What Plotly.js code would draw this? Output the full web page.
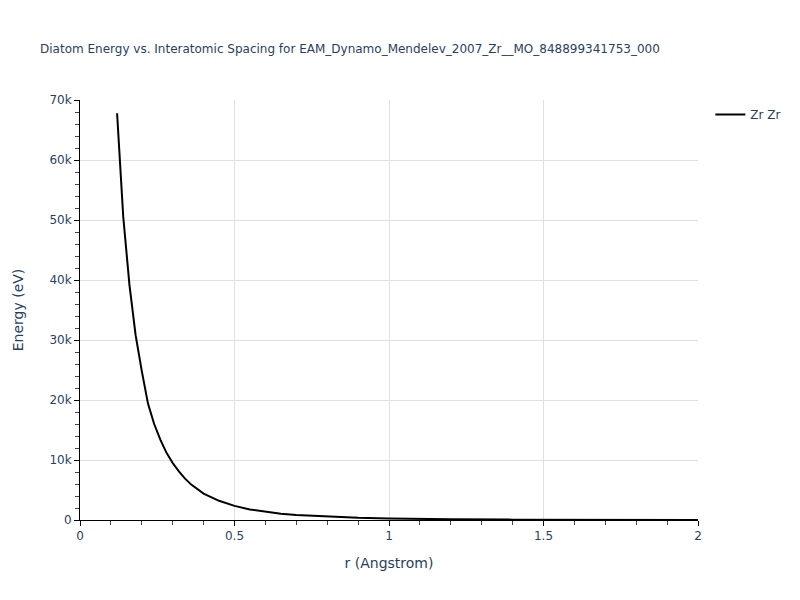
<!DOCTYPE html>
<html>
<head>
<meta charset="utf-8">
<script src="https://cdn.plot.ly/plotly-3.0.1.min.js"></script>
<style>html,body{margin:0;padding:0;background:#fff;}</style>
</head>
<body>
<div id="chart" style="width:800px;height:600px;"></div>
<script>
const seriesName = "Zr Zr";
const rValues = [0.12, 0.13, 0.14, 0.16, 0.18, 0.20, 0.22, 0.24, 0.26, 0.28, 0.30, 0.32, 0.34, 0.36, 0.38, 0.40, 0.45, 0.50, 0.55, 0.60, 0.65, 0.70, 0.80, 0.90, 1.0, 1.1, 1.2, 1.4, 1.6, 1.8, 2.0];
const energyValues = [67800, 58500, 50500, 39200, 30800, 24800, 19400, 16000, 13400, 11200, 9500, 8100, 6900, 5900, 5100, 4400, 3200, 2350, 1750, 1350, 1050, 830, 550, 360, 250, 170, 120, 60, 30, 12, 0];
const titleText = "Diatom Energy vs. Interatomic Spacing for EAM_Dynamo_Mendelev_2007_Zr__MO_848899341753_000";

const trace = {
  x: rValues, y: energyValues, type: 'scatter', mode: 'lines', name: seriesName,
  line: {color: '#000000', width: 2}
};
const layout = {
  width: 800, height: 600,
  font: {family: '"DejaVu Sans", Verdana, sans-serif', size: 12, color: '#2a3f5f'},
  title: {text: titleText, x: 0.05, xanchor: 'left', y: 0.925, font: {size: 12}},
  margin: {l: 80, r: 102, t: 100, b: 80},
  paper_bgcolor: '#fff', plot_bgcolor: '#fff',
  showlegend: true,
  legend: {x: 1.02, y: 1, xanchor: 'left', yanchor: 'top'},
  xaxis: {
    title: {text: 'r (Angstrom)', font: {size: 14}, standoff: 15},
    automargin: true,
    range: [0, 2], showline: true, linecolor: '#000', linewidth: 1,
    ticks: 'outside', tickcolor: '#000', ticklen: 5, dtick: 0.5,
    gridcolor: '#e0e0e0', zeroline: false,
    minor: {ticks: 'outside', dtick: 0.1, ticklen: 4, tickcolor: '#444', showgrid: false}
  },
  yaxis: {
    title: {text: 'Energy (eV)', font: {size: 14}, standoff: 22},
    automargin: true,
    range: [0, 70000], showline: true, linecolor: '#000', linewidth: 1,
    ticks: 'outside', tickcolor: '#000', ticklen: 5, dtick: 10000,
    gridcolor: '#e0e0e0', zeroline: false,
    minor: {ticks: 'outside', dtick: 2000, ticklen: 4, tickcolor: '#444', showgrid: false}
  }
};
Plotly.newPlot('chart', [trace], layout, {displayModeBar: false});
</script>
</body>
</html>
